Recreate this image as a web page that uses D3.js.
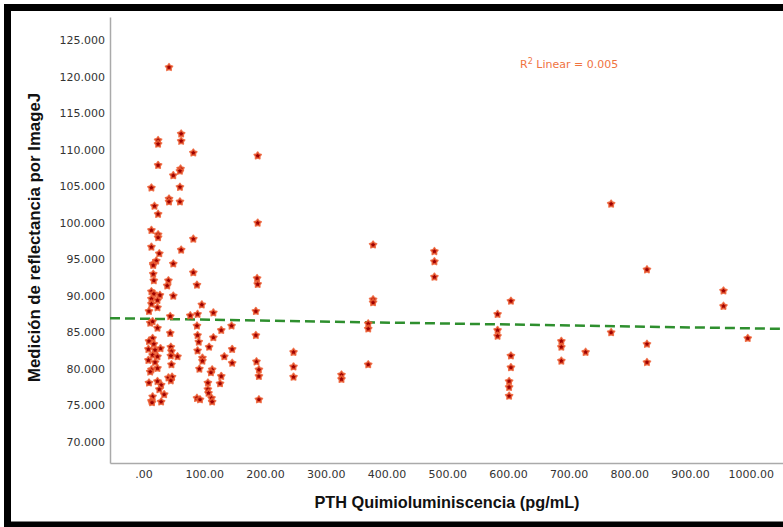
<!DOCTYPE html>
<html>
<head>
<meta charset="utf-8">
<script src="https://cdn.jsdelivr.net/npm/d3@7"></script>
<style>
  body { margin: 0; background: #fff; }
  svg { display: block; }
  .tick text { font-family: "DejaVu Sans", sans-serif; font-size: 11px; fill: #333; }
  .axis path { stroke: #aaa; stroke-width: 1.5; }
  .axisTitle { font-family: "Liberation Sans", Arial, sans-serif; font-weight: bold; fill: #111; }
</style>
</head>
<body>
<div id="chart"></div>
<script>
// PTH (pg/mL) and reflectance values
var pth = [42, 24, 24, 62, 62, 82, 188, 24, 61, 60, 49, 13, 60, 42, 42, 60, 18, 24, 13, 24,
    24, 188, 82, 13, 62, 26, 21, 16, 16, 49, 16, 82, 187, 17, 41, 39, 88, 188, 13, 17,
    27, 13, 23, 13, 23, 9, 49, 96, 11, 15, 44, 77, 89, 115, 185, 23, 88, 145, 128, 44,
    89, 115, 185, 15, 9, 17, 28, 8, 19, 15, 23, 8, 19, 23, 13, 11, 9, 23, 29, 26,
    34, 15, 13, 14, 29, 45, 46, 45, 56, 46, 41, 47, 45, 91, 89, 97, 97, 108, 146, 133,
    146, 92, 113, 111, 128, 126, 106, 106, 107, 88, 93, 112, 113, 186, 190, 190, 190, 247, 247, 247,
    326, 326, 378, 378, 378, 370, 370, 370, 479, 479, 479, 583, 583, 583, 605, 605, 605, 602, 602, 602,
    688, 688, 688, 728, 770, 770, 829, 829, 829, 955, 955, 995];

var reflectance = [121.3, 111.3, 110.8, 112.2, 111.2, 109.6, 109.2, 107.9, 107.4, 107.1, 106.5, 104.8, 104.9, 103.3, 102.9, 102.9, 102.3, 101.2, 99.0, 98.4,
    98.0, 100.0, 97.8, 96.7, 96.3, 95.8, 94.8, 94.4, 94.2, 94.4, 93.0, 93.2, 92.4, 92.1, 92.1, 91.4, 91.5, 91.6, 90.6, 90.3,
    90.1, 89.6, 89.4, 88.9, 88.4, 87.9, 90.0, 88.8, 86.3, 86.5, 87.2, 87.3, 87.5, 87.7, 87.9, 85.6, 85.9, 85.9, 85.3, 84.9,
    84.6, 84.3, 84.6, 84.2, 83.8, 83.4, 82.8, 82.7, 82.6, 81.9, 81.7, 81.2, 80.9, 80.1, 79.9, 79.6, 78.1, 78.3, 77.8, 77.2,
    76.5, 76.2, 75.6, 75.4, 75.5, 83.0, 82.4, 81.8, 81.7, 80.6, 78.8, 78.9, 78.4, 83.7, 82.5, 81.5, 81.1, 83.0, 82.7, 81.7,
    80.8, 80.0, 79.9, 79.5, 79.0, 78.0, 78.1, 77.2, 76.7, 76.0, 75.8, 76.0, 75.5, 81.0, 79.9, 79.0, 75.8, 82.3, 80.3, 78.9,
    79.2, 78.6, 97.0, 89.5, 89.1, 86.2, 85.5, 80.6, 96.1, 94.7, 92.6, 87.5, 85.3, 84.5, 89.3, 81.8, 80.2, 78.3, 77.5, 76.3,
    83.8, 83.0, 81.1, 82.3, 102.6, 85.0, 93.6, 83.4, 80.9, 90.7, 88.6, 84.2];

var xTicks = [0, 100, 200, 300, 400, 500, 600, 700, 800, 900, 1000];
var yTicks = [70, 75, 80, 85, 90, 95, 100, 105, 110, 115, 120, 125];

// linear fit line shown in the reference (R2 = 0.005)
var fitIntercept = 86.88;
var fitSlope = -0.00132;

var width = 783, height = 527;
var plot = {left: 110, right: 783, top: 17, bottom: 463};

var svg = d3.select("#chart").append("svg")
    .attr("width", width)
    .attr("height", height);

var x = d3.scaleLinear()
    .domain([-55.2, 1053])
    .range([plot.left, plot.right]);

var y = d3.scaleLinear()
    .domain([67.12, 128.2])
    .range([plot.bottom, plot.top]);

//axes
svg.append("g")
    .attr("class", "axis")
    .attr("transform", "translate(0," + plot.bottom + ")")
    .call(d3.axisBottom(x)
        .tickValues(xTicks)
        .tickSize(0)
        .tickPadding(7)
        .tickFormat(function (d) { return d === 0 ? ".00" : d3.format(".2f")(d); }));

svg.append("g")
    .attr("class", "axis")
    .attr("transform", "translate(" + plot.left + ",0)")
    .call(d3.axisLeft(y)
        .tickValues(yTicks)
        .tickSize(0)
        .tickPadding(5)
        .tickFormat(d3.format(".3f")));

//fit line
var xDom = x.domain();
svg.append("line")
    .attr("x1", x(xDom[0]))
    .attr("y1", y(fitIntercept + fitSlope * xDom[0]))
    .attr("x2", x(xDom[1]))
    .attr("y2", y(fitIntercept + fitSlope * xDom[1]))
    .attr("stroke", "#2e8f2e")
    .attr("stroke-width", 2.5)
    .attr("stroke-dasharray", "10,5");

// a stubby five point star, closer to the SPSS marker than d3.symbolStar
var fatStar = {
    draw: function (context, size) {
        var r = Math.sqrt(size / 2.2);
        for (var i = 0; i < 10; i++) {
            var a = -Math.PI / 2 + i * Math.PI / 5;
            var rr = i % 2 ? r * 0.6 : r;
            if (i === 0) context.moveTo(rr * Math.cos(a), rr * Math.sin(a));
            else context.lineTo(rr * Math.cos(a), rr * Math.sin(a));
        }
        context.closePath();
    }
};

//points
svg.selectAll(".point").data(pth)
    .enter()
    .append("path")
    .attr("class", "point")
    .attr("d", d3.symbol().type(fatStar).size(30))
    .attr("transform", function (d, i) { return "translate(" + x(d) + "," + y(reflectance[i]) + ")"; })
    .attr("fill", "#9e0000")
    .attr("stroke", "#ee6236")
    .attr("stroke-opacity", 0.85)
    .attr("stroke-width", 1.6)
    .attr("stroke-linejoin", "round");

//R2 label
var r2 = svg.append("text")
    .attr("x", 520)
    .attr("y", 68)
    .attr("font-family", "DejaVu Sans, sans-serif")
    .attr("font-size", "11px")
    .attr("fill", "#f0733f");
r2.append("tspan").text("R");
r2.append("tspan").attr("font-size", "8px").attr("dy", -4).text("2");
r2.append("tspan").attr("dy", 4).text(" Linear = 0.005");

//axis titles
svg.append("text")
    .attr("class", "axisTitle")
    .attr("font-size", "16.3px")
    .attr("x", 447)
    .attr("y", 508)
    .attr("text-anchor", "middle")
    .text("PTH Quimioluminiscencia (pg/mL)");

svg.append("text")
    .attr("class", "axisTitle")
    .attr("font-size", "16.8px")
    .attr("transform", "translate(40,237.5) rotate(-90)")
    .attr("text-anchor", "middle")
    .text("Medición de reflectancia por ImageJ");

//black frame
svg.append("rect")
    .attr("x", 7.5)
    .attr("y", 7.5)
    .attr("width", 820)
    .attr("height", 517.5)
    .attr("fill", "none")
    .attr("stroke", "#000")
    .attr("stroke-width", 7);
</script>
</body>
</html>
